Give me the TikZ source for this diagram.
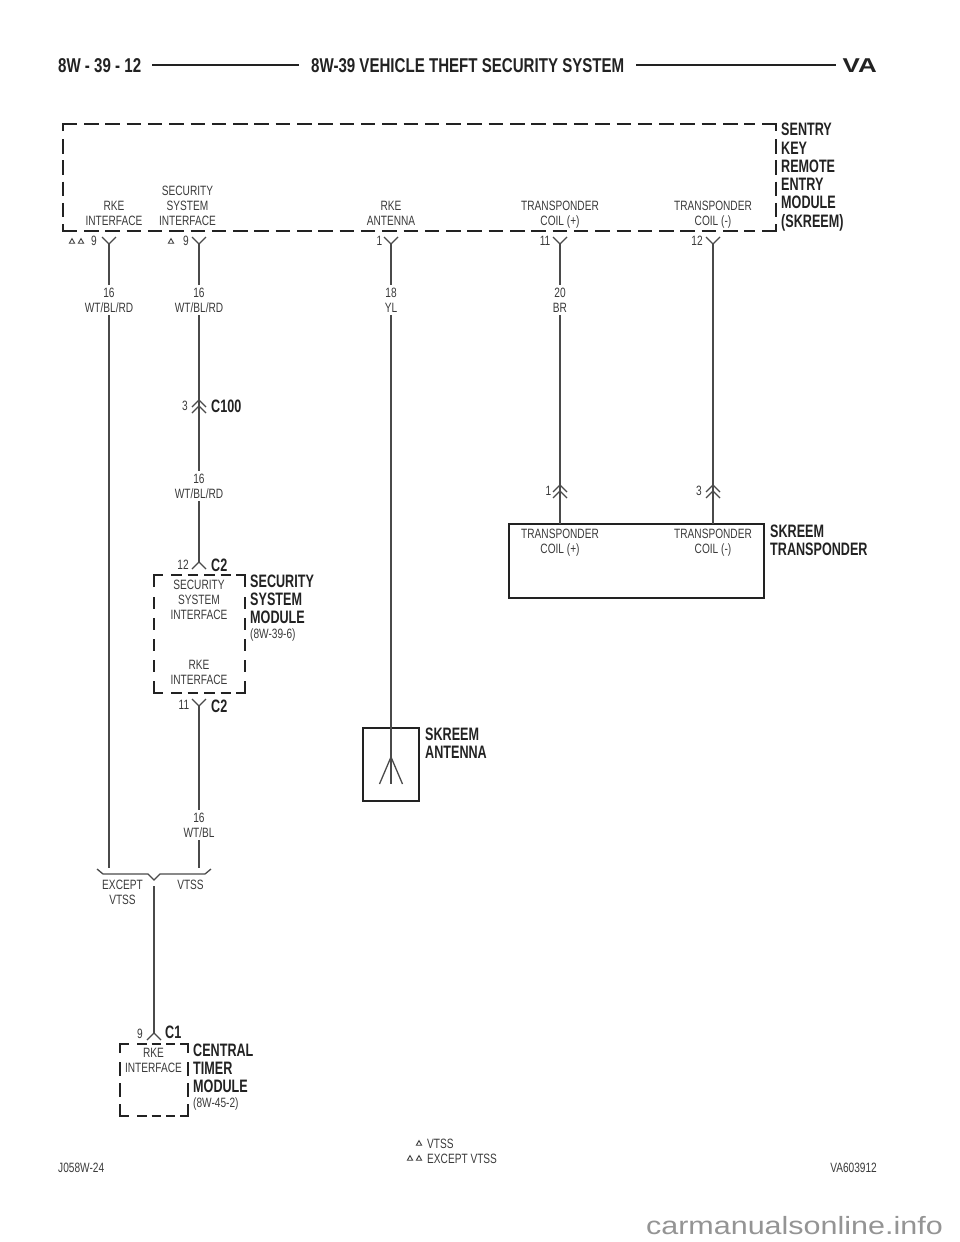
\documentclass[tikz,border=0pt]{standalone}
\usepackage{fontspec}
\setmainfont{Liberation Sans}[FakeStretch=0.75]
\newfontfamily\boldlab{Liberation Sans Bold}[FakeStretch=0.70]
\newfontfamily\titlefont{Liberation Sans Bold}[FakeStretch=0.754]
\newfontfamily\vafont{Liberation Sans Bold}[FakeStretch=1.30]
\newfontfamily\wmfont{Liberation Sans}[FakeStretch=1.22]
\definecolor{ink}{HTML}{222222}
\definecolor{wirec}{HTML}{4A4A4A}
\definecolor{txt}{HTML}{3A3A3A}
\newcommand{\Yconn}[2]{\draw[conn] (#1-7,#2-7) -- (#1,#2) -- (#1+7,#2-7);}
\newcommand{\Aconn}[2]{\draw[conn] (#1-7,#2+7) -- (#1,#2) -- (#1+7,#2+7);}
\newcommand{\Dconn}[2]{\Aconn{#1}{#2}\Aconn{#1}{#2+6}}
\newcommand{\Tri}[2]{\draw[tri] (#1-2.6,#2+2.2) -- (#1,#2-2.4) -- (#1+2.6,#2+2.2) -- cycle;}
\tikzset{
 x=1pt,y=-1pt,
 wire/.style={draw=wirec,line width=1.6pt},
 conn/.style={draw=wirec,line width=1.3pt},
 dbox/.style={draw=ink,line width=2.6pt,line join=miter},
 dashline/.style={draw=ink,line width=2.6pt,dash pattern=on 14.5pt off 6.8pt},
 sbox/.style={draw=ink,line width=2.8pt},
 tri/.style={draw=txt,line width=0.9pt},
 lab/.style={text=txt,font=\fontsize{13.5}{15}\selectfont,align=center,inner sep=0pt,anchor=center},
 pin/.style={text=txt,font=\fontsize{13.5}{15}\selectfont,inner sep=0pt},
 blab/.style={text=ink,font=\boldlab\fontsize{18}{18.25}\selectfont,align=left,inner sep=0pt,anchor=north west},
 sublab/.style={text=txt,font=\fontsize{13.5}{15}\selectfont,inner sep=0pt,anchor=west},
 wirelab/.style={lab,inner ysep=3pt},
}
\begin{document}
\begin{tikzpicture}
\useasboundingbox (0,0) rectangle (960,1242);
% header
\node[text=ink,font=\titlefont\fontsize{20}{20}\selectfont,anchor=west,inner sep=0pt] (pageno) at (58,66) {8W - 39 - 12};
\node[text=ink,font=\titlefont\fontsize{20}{20}\selectfont,anchor=west,inner sep=0pt] (title) at (311,66) {8W-39 VEHICLE THEFT SECURITY SYSTEM};
\node[text=ink,font=\vafont\fontsize{20}{20}\selectfont,anchor=east,inner sep=0pt] (va) at (877,66) {VA};
\coordinate (hl1) at (152,65); \coordinate (hl2) at (299,65);
\coordinate (hl3) at (636,65); \coordinate (hl4) at (836,65);
\draw[draw=ink,line width=2.6pt] (hl1) -- (hl2);
\draw[draw=ink,line width=2.6pt] (hl3) -- (hl4);

% SKREEM dashed box
\draw[dbox] (63,131) |- (77,124);
\draw[dbox] (762,124) -| (776,131);
\draw[dbox] (63,224) |- (77,231);
\draw[dbox] (762,231) -| (776,224);
\draw[dashline] (84,124) -- (755,124);
\draw[dashline] (84,231) -- (755,231);
\draw[dashline] (63,139) -- (63,218);
\draw[dashline] (776,139) -- (776,218);
\node[blab] (sentry) at (781,123) {SENTRY\\KEY\\REMOTE\\ENTRY\\MODULE\\(SKREEM)};

% labels in SKREEM
\node[lab,anchor=north] (m1) at (114,201) {RKE\\INTERFACE};
\node[lab,anchor=north] (m2) at (187.5,186) {SECURITY\\SYSTEM\\INTERFACE};
\node[lab,anchor=north] (m3) at (391,201) {RKE\\ANTENNA};
\node[lab,anchor=north] (m4) at (560,201) {TRANSPONDER\\COIL (+)};
\node[lab,anchor=north] (m5) at (713,201) {TRANSPONDER\\COIL (-)};

% connectors from SKREEM
\coordinate (p1) at (109,244); \coordinate (p2) at (199,244);
\coordinate (p3) at (391,244); \coordinate (p4) at (560,244);
\coordinate (p5) at (713,244);
\Yconn{109}{244}\Yconn{199}{244}\Yconn{391}{244}\Yconn{560}{244}\Yconn{713}{244}
\node[pin] (n1) at (94,241) {9};
\node[pin] (n2) at (186,241) {9};
\node[pin] (n3) at (379.5,241) {1};
\node[pin] (n4) at (545,241) {11};
\node[pin] (n5) at (697,241) {12};
\Tri{72}{241}\Tri{81}{241}\Tri{171}{241}

% wire labels
\node[wirelab] (w1) at (109,300) {16\\WT/BL/RD};
\node[wirelab] (w2) at (199,300) {16\\WT/BL/RD};
\node[wirelab] (w3) at (391,300) {18\\YL};
\node[wirelab] (w4) at (560,300) {20\\BR};
\draw[wire] (p1) -- (w1.north);
\draw[wire] (p2) -- (w2.north);
\draw[wire] (p3) -- (w3.north);
\draw[wire] (p4) -- (w4.north);

% C100
\coordinate (c100) at (199,400);
\Dconn{199}{400}
\node[pin] (n100) at (185,406) {3};
\node[blab,anchor=west] (lc100) at (211,406.5) {C100};
\node[wirelab] (w6) at (199,486) {16\\WT/BL/RD};
\draw[wire] (w2.south) -- (c100);
\draw[wire] (c100) -- (w6.north);

% security system module
\coordinate (c2a) at (199,562);
\Aconn{199}{562}
\node[pin] (n12) at (183,565) {12};
\node[blab,anchor=west] (lc2a) at (211,565) {C2};
\draw[wire] (w6.south) -- (c2a);
\draw[dbox] (154,587) |- (163,575);
\draw[dbox] (236,575) -| (245,587);
\draw[dbox] (154,681) |- (163,693);
\draw[dbox] (236,693) -| (245,681);
\draw[dashline,dash pattern=on 10.5pt off 6pt] (171,575) -- (231,575);
\draw[dashline,dash pattern=on 10.5pt off 6pt] (171,693) -- (231,693);
\draw[dashline,dash pattern=on 11.5pt off 9.5pt] (154,597) -- (154,673);
\draw[dashline,dash pattern=on 11.5pt off 9.5pt] (245,597) -- (245,673);
\node[lab,anchor=north] (s1) at (199,580) {SECURITY\\SYSTEM\\INTERFACE};
\node[lab,anchor=north] (s2) at (199,660) {RKE\\INTERFACE};
\node[blab] (ssm) at (250,574.5) {SECURITY\\SYSTEM\\MODULE};
\node[sublab] (ssmr) at (250,635) {(8W-39-6)};
\coordinate (c2b) at (199,706);
\Yconn{199}{706}
\node[pin] (n11) at (184,705) {11};
\node[blab,anchor=west] (lc2b) at (211,706) {C2};
\node[wirelab] (w7) at (199,825) {16\\WT/BL};
\draw[wire] (c2b) -- (w7.north);

% splice bracket
\coordinate (sp1) at (109,868); \coordinate (sp2) at (199,868);
\coordinate (sp3) at (154,886);
\draw[conn] (97,869) -- (103,874) -- (148,874) -- (154,880) -- (160,874) -- (205,874) -- (211,869);
\draw[wire] (w1.south) -- (sp1);
\draw[wire] (w7.south) -- (sp2);
\node[lab,anchor=north] (ex) at (122.5,880) {EXCEPT\\VTSS};
\node[lab,anchor=north] (vt) at (190.5,880) {VTSS};

% central timer module
\coordinate (c1) at (154,1033);
\Aconn{154}{1033}
\draw[wire] (sp3) -- (c1);
\node[pin] (n9) at (140,1034) {9};
\node[blab,anchor=west] (lc1) at (165,1032) {C1};
\draw[dbox] (120,1053) |- (129,1044);
\draw[dbox] (180,1044) -| (188,1053);
\draw[dbox] (120,1104) |- (129,1116);
\draw[dbox] (180,1116) -| (188,1104);
\draw[dashline,dash pattern=on 9.5pt off 5pt] (137,1044) -- (175,1044);
\draw[dashline,dash pattern=on 9.5pt off 5pt] (137,1116) -- (175,1116);
\draw[dashline,dash pattern=on 14pt off 7pt] (120,1062) -- (120,1097);
\draw[dashline,dash pattern=on 14pt off 7pt] (188,1062) -- (188,1097);
\node[lab,anchor=north] (t1) at (153.5,1048) {RKE\\INTERFACE};
\node[blab] (ctm) at (193,1043.5) {CENTRAL\\TIMER\\MODULE};
\node[sublab] (ctmr) at (193,1104) {(8W-45-2)};

% antenna
\node[sbox,minimum width=56pt,minimum height=73pt,inner sep=0pt] (ant) at (391,764.5) {};
\coordinate (anta) at (391,757);
\coordinate (ant1) at (379.5,784); \coordinate (ant2) at (391,784); \coordinate (ant3) at (402.5,784);
\draw[wire] (w3.south) -- (anta);
\draw[conn] (ant1) -- (anta) -- (ant3);
\draw[conn] (anta) -- (ant2);
\node[blab] (antl) at (425,727.5) {SKREEM\\ANTENNA};

% transponder
\node[sbox,minimum width=255pt,minimum height=74pt,inner sep=0pt] (tr) at (636.5,561) {};
\coordinate (tw1) at (560,524); \coordinate (tw2) at (713,524);
\coordinate (c1t) at (560,485); \coordinate (c2t) at (713,485);
\Dconn{560}{485}\Dconn{713}{485}
\draw[wire] (w4.south) -- (tw1);
\draw[wire] (p5) -- (tw2);
\node[pin] (n1t) at (548.5,491) {1};
\node[pin] (n3t) at (699,491) {3};
\node[lab,anchor=north] (tl1) at (560,528.5) {TRANSPONDER\\COIL (+)};
\node[lab,anchor=north] (tl2) at (713,528.5) {TRANSPONDER\\COIL (-)};
\node[blab] (trl) at (770,524.5) {SKREEM\\TRANSPONDER};

% legend
\Tri{419}{1143}\Tri{410}{1158}\Tri{419}{1158}
\node[sublab] (lg1) at (427,1144) {VTSS};
\node[sublab] (lg2) at (427,1159) {EXCEPT VTSS};
\node[sublab] (ref1) at (58,1168) {J058W-24};
\node[sublab,anchor=east] (ref2) at (877,1168) {VA603912};
\node[text=black!42,font=\wmfont\fontsize{25}{25}\selectfont,anchor=east,inner sep=0pt] (wm) at (943,1226) {carmanualsonline.info};
\end{tikzpicture}
\end{document}
